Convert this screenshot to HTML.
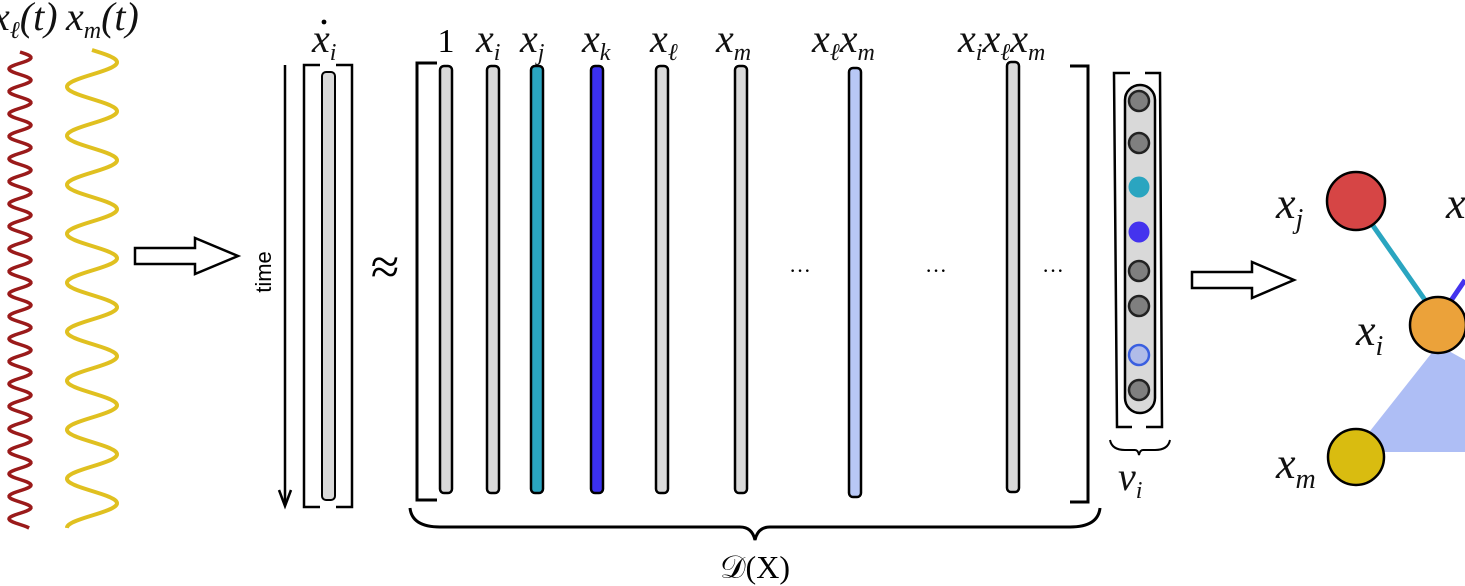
<!DOCTYPE html>
<html><head><meta charset="utf-8"><style>
html,body{margin:0;padding:0;background:#fff;}
svg{display:block;}
.m{font-family:"Liberation Serif",serif;font-style:italic;font-size:40px;fill:#111;}
.s{font-family:"Liberation Serif",serif;font-style:italic;font-size:24px;fill:#111;}
.g{font-family:"Liberation Serif",serif;font-style:italic;font-size:44px;fill:#111;}
.gs{font-family:"Liberation Serif",serif;font-style:italic;font-size:28px;fill:#111;}
</style></head><body>
<svg width="1465" height="586" viewBox="0 0 1465 586" xmlns="http://www.w3.org/2000/svg">
<path id="red" fill="none" stroke="#9a1a1a" stroke-width="3.5" d=""/>
<path id="yel" fill="none" stroke="#e0c020" stroke-width="4" d=""/>
<path id="org" fill="none" stroke="#e8904a" stroke-width="3" d=""/>
<text x="-8" y="30" class="m">x<tspan class="s" dy="8">ℓ</tspan><tspan dy="-8">(t)</tspan></text>
<text x="66" y="30" class="m">x<tspan class="s" dy="8">m</tspan><tspan dy="-8">(t)</tspan></text>
<path d="M135,248 L195,248 L195,238 L238,256 L195,274 L195,264 L135,264 Z" fill="#fff" stroke="#000" stroke-width="2.5"/>
<line x1="285" y1="65" x2="285" y2="505" stroke="#000" stroke-width="2.5"/>
<path d="M279,490 L285,506 L291,490" fill="none" stroke="#000" stroke-width="2.5"/>
<text x="0" y="0" transform="translate(271,272) rotate(-90)" font-family="Liberation Sans,sans-serif" font-size="22" text-anchor="middle">time</text>
<path d="M320,65 L304,65 L304,507 L320,507 M336,65 L352,65 L352,507 L336,507" fill="none" stroke="#000" stroke-width="2.5"/>
<rect x="322" y="72" width="13" height="428" rx="4" fill="#d9d9d9" stroke="#000" stroke-width="2"/>
<text x="312" y="52" class="m">x<tspan class="s" dy="8">i</tspan></text>
<circle cx="324" cy="22" r="2.4" fill="#000"/>
<text x="385" y="284" font-family="Liberation Serif,serif" font-size="52" text-anchor="middle">≈</text>
<path d="M437,63 L417,63 L417,500 L437,500 M1070,66 L1088,66 L1088,502 L1070,502" fill="none" stroke="#000" stroke-width="3"/>
<g stroke="#000" stroke-width="2.5">
<rect x="440" y="66" width="12" height="427" rx="4" fill="#d9d9d9"/>
<rect x="487" y="66" width="12" height="427" rx="4" fill="#d9d9d9"/>
<rect x="531" y="66" width="12" height="427" rx="4" fill="#2aa5c0"/>
<rect x="591" y="66" width="12" height="427" rx="4" fill="#3b30f0"/>
<rect x="656" y="66" width="12" height="427" rx="4" fill="#d9d9d9"/>
<rect x="735" y="66" width="12" height="427" rx="4" fill="#d9d9d9"/>
<rect x="849" y="68" width="12" height="429" rx="4" fill="#b8c8f6"/>
<rect x="1007" y="62" width="12" height="430" rx="4" fill="#d9d9d9"/>
</g>
<text x="446" y="52" font-family="Liberation Serif,serif" font-size="34" text-anchor="middle">1</text>
<text x="476" y="52" class="m">x<tspan class="s" dy="8">i</tspan></text>
<text x="520" y="52" class="m">x<tspan class="s" dy="8">j</tspan></text>
<text x="582" y="52" class="m">x<tspan class="s" dy="8">k</tspan></text>
<text x="650" y="52" class="m">x<tspan class="s" dy="8">ℓ</tspan></text>
<text x="716" y="52" class="m">x<tspan class="s" dy="8">m</tspan></text>
<text x="812" y="52" class="m">x<tspan class="s" dy="8">ℓ</tspan><tspan dy="-8">x</tspan><tspan class="s" dy="8">m</tspan></text>
<text x="958" y="52" class="m">x<tspan class="s" dy="8">i</tspan><tspan dy="-8">x</tspan><tspan class="s" dy="8">ℓ</tspan><tspan dy="-8">x</tspan><tspan class="s" dy="8">m</tspan></text>
<g font-family="Liberation Serif,serif" font-size="22" text-anchor="middle"><text x="800" y="278">···</text><text x="936" y="278">···</text><text x="1053" y="278">···</text></g>
<path d="M410,508 Q412,527 440,527 L740,527 Q752,527 755,540 Q758,527 770,527 L1070,527 Q1098,527 1100,508" fill="none" stroke="#000" stroke-width="3"/>
<text x="755" y="578" font-family="Liberation Serif,serif" font-size="32" text-anchor="middle">𝒟(X)</text>
<path d="M1130,73 L1114,73 L1117,427 L1132,427 M1145,73 L1160,73 L1162,427 L1146,427" fill="none" stroke="#000" stroke-width="2.5"/>
<rect x="1125" y="85" width="30" height="328" rx="15" fill="#d9d9d9" stroke="#000" stroke-width="2.5"/>
<g stroke="#222" stroke-width="2.5" fill="#7f7f7f">
<circle cx="1139" cy="101" r="10"/><circle cx="1139" cy="143" r="10"/>
<circle cx="1139" cy="187" r="10.5" fill="#2aa5c0" stroke="none"/>
<circle cx="1139" cy="232" r="10.5" fill="#4433ee" stroke="none"/>
<circle cx="1139" cy="271" r="10"/><circle cx="1139" cy="306" r="10"/>
<circle cx="1139" cy="355" r="10" fill="#b0bbe8" stroke="#3a5fe0"/>
<circle cx="1139" cy="390" r="10"/>
</g>
<path d="M1110,440 Q1112,450 1125,450 L1135,450 Q1138,450 1139,455 Q1140,450 1143,450 L1155,450 Q1168,450 1170,440" fill="none" stroke="#000" stroke-width="2"/>
<text x="1118" y="490" class="m">v<tspan class="s" dy="8">i</tspan></text>
<path d="M1192,272 L1252,272 L1252,262 L1294,280 L1252,298 L1252,288 L1192,288 Z" fill="#fff" stroke="#000" stroke-width="2.5"/>
<polygon points="1438,345 1465,360 1465,452 1380,452 1355,450" fill="#aebef5"/>
<line x1="1355" y1="200" x2="1432" y2="310" stroke="#2aa5c0" stroke-width="5"/>
<line x1="1448" y1="305" x2="1465" y2="280" stroke="#4433ee" stroke-width="5"/>
<circle cx="1356" cy="201" r="29" fill="#d64545" stroke="#000" stroke-width="2.5"/>
<circle cx="1438" cy="325" r="28" fill="#eba23a" stroke="#000" stroke-width="2.5"/>
<circle cx="1356" cy="457" r="28" fill="#d9bc10" stroke="#000" stroke-width="2.5"/>
<text x="1276" y="218" class="g">x<tspan class="gs" dy="10">j</tspan></text>
<text x="1356" y="345" class="g">x<tspan class="gs" dy="10">i</tspan></text>
<text x="1276" y="478" class="g">x<tspan class="gs" dy="10">m</tspan></text>
<text x="1446" y="218" class="g">x</text>
</svg>
<script>
function wave(id,cx,amp,per,y0,y1){let d='';for(let y=y0;y<=y1;y+=1){const x=cx+amp*Math.sin((y-y0)/per*2*Math.PI);d+=(y===y0?'M':'L')+x.toFixed(1)+','+y;}document.getElementById(id).setAttribute('d',d);}
wave('red',20,11,22.5,52,528);
wave('yel',92,25,49,50,528);
wave('org',-6,3,45,52,528);
</script>
</body></html>
